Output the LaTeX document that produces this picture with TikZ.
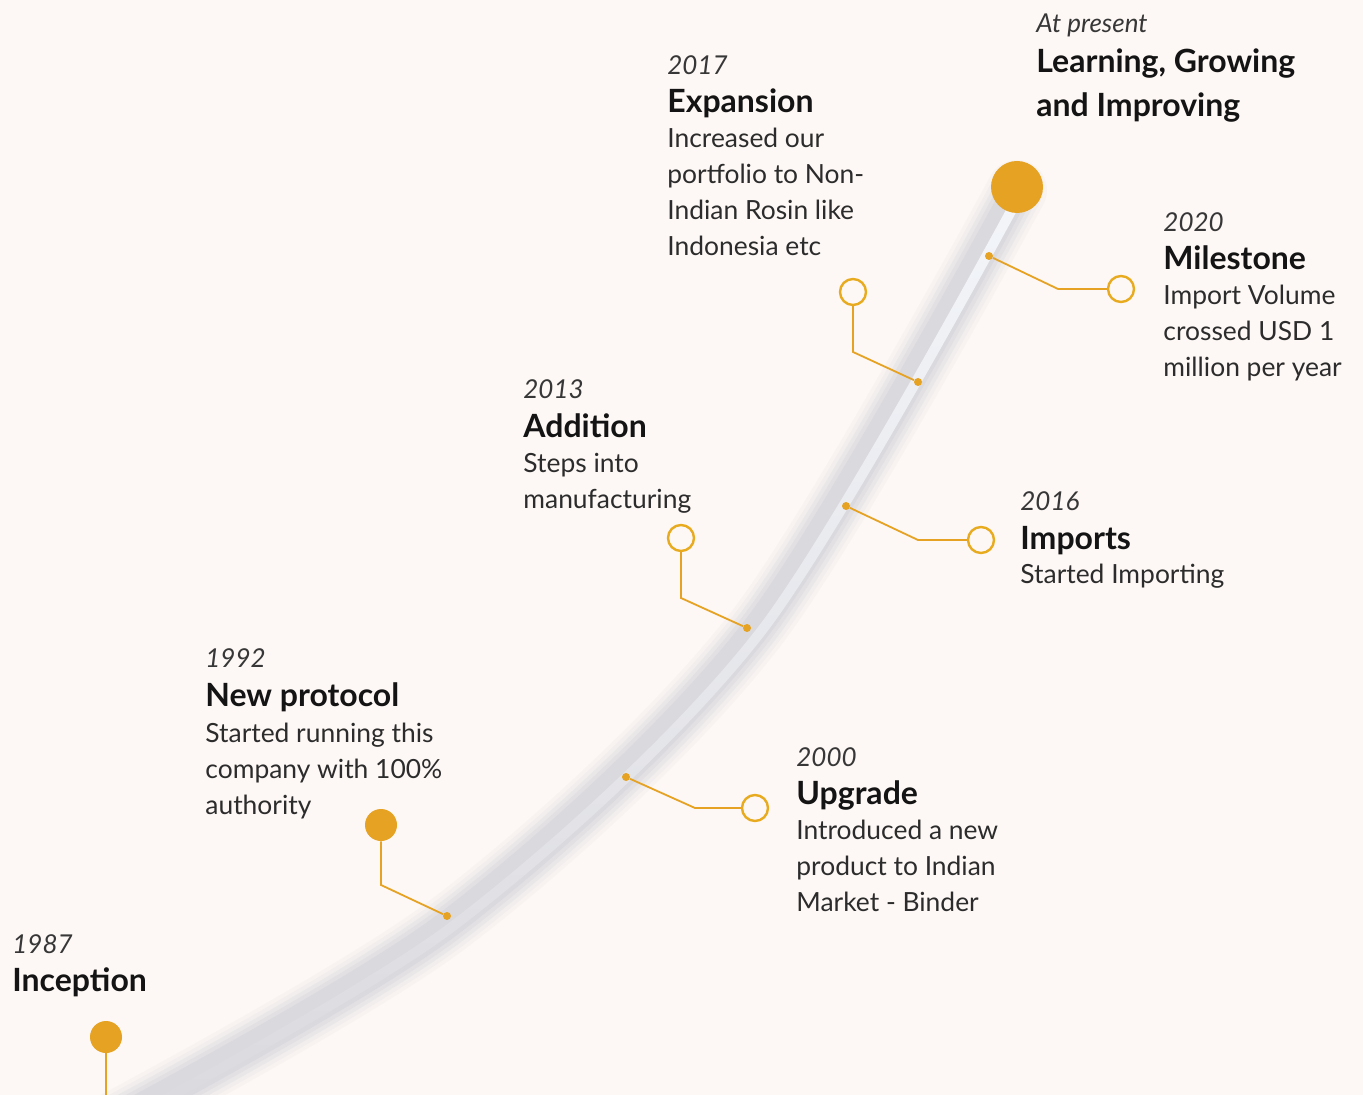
\documentclass[tikz,border=0pt]{standalone}
\usepackage{fontspec}
\setmainfont{Lato}
\usetikzlibrary{positioning,calc,fadings}
\definecolor{cream}{RGB}{253,248,245}
\definecolor{gold}{RGB}{230,162,35}
\definecolor{ink}{RGB}{20,20,20}
\definecolor{tubegrey}{RGB}{190,194,205}
\definecolor{shine}{RGB}{246,249,253}
\tikzset{
  year/.style   = {anchor=base west, inner sep=0pt, text=ink!85,
                   font=\fontsize{13}{18}\selectfont\itshape},
  head/.style   = {anchor=base west, inner sep=0pt, text=ink, align=left,
                   font=\fontsize{16}{22}\selectfont\bfseries},
  body/.style   = {anchor=base west, inner sep=0pt, text=ink!90, align=left,
                   font=\fontsize{13.2}{18}\selectfont},
  bigdot/.style = {circle, fill=gold, inner sep=0pt, minimum size=16pt},
  pin/.style    = {circle, fill=gold, inner sep=0pt, minimum size=4pt},
  ring/.style   = {circle, draw=gold!90!yellow, line width=1.2pt, fill=cream,
                   inner sep=0pt, minimum size=13pt},
  leader/.style = {draw=gold, line width=0.9pt},
}

\begin{document}
\begin{tikzpicture}[x=0.5pt, y=-0.5pt]
\useasboundingbox[fill=cream] (0,0) rectangle (1363,1095);

% points on the tube
\coordinate (t1992) at (447,916);
\coordinate (t2000) at (626,777);
\coordinate (t2013) at (747,628);
\coordinate (t2016) at (846,506);
\coordinate (t2017) at (918,382);
\coordinate (t2020) at (989,256);
\coordinate (tnow)  at (1017,187);

% the tube, a soft grey band with a shine near the top
\foreach \w/\o in {30/0.08, 26/0.1, 22/0.14, 18/0.18, 14/0.22}
  \draw[tubegrey, line width=\w pt, opacity=\o, line cap=round]
    plot[smooth] coordinates {(80,1140) (447,925) (755,630) (1017,190)};
\draw[shine, line width=5pt, opacity=0.9, path fading=south, line cap=round]
  plot[smooth] coordinates {(86,1142) (452,927) (761,632) (1022,192)};

% markers
\node[bigdot] (d1987) at (106,1037) {};
\coordinate (e1987) at (106,1100);
\draw[leader] (d1987) -- (e1987);

\node[bigdot] (d1992) at (381,825) {};
\node[pin] (p1992) at (t1992) {};
\coordinate (c1992) at (381,885);
\draw[leader] (d1992) -- (c1992) -- (p1992);

\node[pin] (p2000) at (t2000) {};
\node[ring] (r2000) at (755,808) {};
\coordinate (c2000) at (695,808);
\draw[leader] (p2000) -- (c2000) -- (r2000);

\node[ring] (r2013) at (681,538) {};
\node[pin] (p2013) at (t2013) {};
\coordinate (c2013) at (681,598);
\draw[leader] (r2013) -- (c2013) -- (p2013);

\node[pin] (p2016) at (t2016) {};
\node[ring] (r2016) at (981,540) {};
\coordinate (c2016) at (918,540);
\draw[leader] (p2016) -- (c2016) -- (r2016);

\node[ring] (r2017) at (853,292) {};
\node[pin] (p2017) at (t2017) {};
\coordinate (c2017) at (853,352);
\draw[leader] (r2017) -- (c2017) -- (p2017);

\node[pin] (p2020) at (t2020) {};
\node[ring] (r2020) at (1121,289) {};
\coordinate (c2020) at (1058,289);
\draw[leader] (p2020) -- (c2020) -- (r2020);

\node[bigdot, minimum size=26pt] (dnow) at (tnow) {};

% texts (a body node sits on the baseline of its last line)
\node[year] (y1987) at (12,953) {1987};
\node[head] (h1987) at ($(y1987.base west)+(0,38)$) {Inception};

\node[year] (y1992) at (205,667) {1992};
\node[head] (h1992) at ($(y1992.base west)+(0,39)$) {New protocol};
\node[body] (b1992) at ($(h1992.base west)+(0,108)$) {Started running this\\company with 100\%\\authority};

\node[year] (y2000) at (796,766) {2000};
\node[head] (h2000) at ($(y2000.base west)+(0,38)$) {Upgrade};
\node[body] (b2000) at ($(h2000.base west)+(0,107)$) {Introduced a new\\product to Indian\\Market - Binder};

\node[year] (y2013) at (523,399) {2013};
\node[head] (h2013) at ($(y2013.base west)+(0,39)$) {Addition};
\node[body] (b2013) at ($(h2013.base west)+(0,71)$) {Steps into\\manufacturing};

\node[year] (y2016) at (1020,510) {2016};
\node[head] (h2016) at ($(y2016.base west)+(0,39)$) {Imports};
\node[body] (b2016) at ($(h2016.base west)+(0,34)$) {Started Importing};

\node[year] (y2017) at (667,75) {2017};
\node[head] (h2017) at ($(y2017.base west)+(0,38)$) {Expansion};
\node[body] (b2017) at ($(h2017.base west)+(0,143)$) {Increased our\\portfolio to Non-\\Indian Rosin like\\Indonesia etc};

\node[year] (y2020) at (1163,232) {2020};
\node[head] (h2020) at ($(y2020.base west)+(0,38)$) {Milestone};
\node[body] (b2020) at ($(h2020.base west)+(0,107)$) {Import Volume\\crossed USD 1\\million per year};

\node[year] (ynow) at (1036,33) {At present};
\node[head] (hnow) at ($(ynow.base west)+(0,84)$) {Learning, Growing\\and Improving};
\end{tikzpicture}
\end{document}
